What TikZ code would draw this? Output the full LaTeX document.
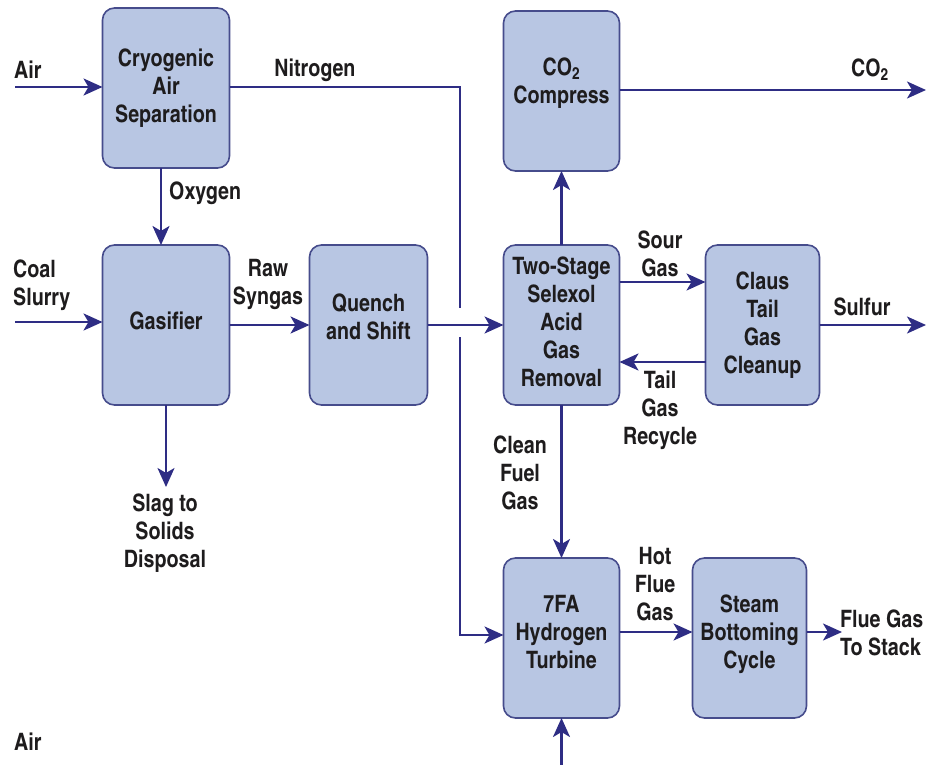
\documentclass[tikz,border=0pt]{standalone}
\usepackage{fontspec}
\setmainfont{TeX Gyre Heros Cn}
\usetikzlibrary{positioning,arrows.meta,calc}
\definecolor{flowink}{HTML}{1E1C1D}
\definecolor{flownavy}{HTML}{2E2D84}
\definecolor{flowedge}{HTML}{464C8C}
\definecolor{flowfill}{HTML}{B8C6E3}
\newcommand{\flowfont}{\fontsize{24}{28}\selectfont\bfseries}
\tikzset{
  unit/.style    ={rounded corners=12pt,draw=flowedge,fill=flowfill,line width=1.6pt,align=center,font=\flowfont,text=flowink,minimum width=116pt,minimum height=160pt,inner sep=0pt,outer sep=0pt},
  wideunit/.style={unit,minimum width=127pt},
  lift/.style    ={text depth=#1},
  arr/.style     ={-{Stealth[length=19pt,width=17pt,inset=5pt]},line width=2.4pt,draw=flownavy},
  pipe/.style    ={line width=2.4pt,draw=flownavy},
  lbl/.style     ={font=\flowfont,text=flowink,align=center,inner sep=0pt},
}

\begin{document}
\begin{tikzpicture}[x=1pt,y=-1pt]
  \useasboundingbox (0,0) rectangle (927,765);
  \node[wideunit, lift=8pt] (gas) at (166,325) {Gasifier};
  \node[wideunit, above=77pt of gas] (cas) {Cryogenic\\Air\\Separation};
  \node[unit, lift=16pt, minimum width=118pt, right=80pt of gas] (quench) {Quench\\and Shift};
  \node[unit, lift=6pt, right=76pt of quench] (selexol) {Two-Stage\\Selexol\\Acid\\Gas\\Removal};
  \node[unit, minimum width=114pt, right=86pt of selexol] (claus) {Claus\\Tail\\Gas\\Cleanup};
  \node[unit, lift=20pt, above=74pt of selexol] (co2) {CO\textsubscript{2}\\Compress};
  \node[unit, lift=12pt, below=153pt of selexol] (turb) {7FA\\Hydrogen\\Turbine};
  \node[unit, lift=13pt, minimum width=114pt, right=73pt of turb] (steam) {Steam\\Bottoming\\Cycle};

  \coordinate (airin) at (15,87);
  \coordinate (coalin) at (15,322);
  \coordinate (slag) at (166,487);
  \coordinate (n2a) at (460,87);
  \coordinate (n2b) at (460,308);
  \coordinate (n2c) at (460,337);
  \coordinate (n2d) at (460,635);
  \coordinate (co2out) at (926,90);
  \coordinate (sulfur) at (926,325);
  \coordinate (stack) at (842,632);
  \coordinate (airbot) at (562,765);

  \draw[arr] (airin) -- (airin -| cas.west);
  \draw[pipe] (cas.east |- n2a) -- (n2a) -- (n2b);
  \draw[arr] (n2c) -- (n2d) -- (n2d -| turb.west);
  \draw[arr] ([xshift=-5pt]cas.south) -- ([xshift=-5pt]gas.north);
  \draw[arr] (coalin) -- (coalin -| gas.west);
  \draw[arr] (gas) -- (quench);
  \draw[arr] (gas.south) -- (slag);
  \draw[arr] (quench) -- (selexol);
  \draw[arr] (selexol) -- (co2);
  \draw[arr] (co2.east |- co2out) -- (co2out);
  \draw[arr] ([yshift=43pt]selexol.east) -- ([yshift=43pt]claus.west);
  \draw[arr] ([yshift=-37pt]claus.west) -- ([yshift=-37pt]selexol.east);
  \draw[arr] (claus.east |- sulfur) -- (sulfur);
  \draw[arr] (selexol) -- (turb);
  \draw[arr] (turb.east |- stack) -- (steam.west |- stack);
  \draw[arr] (steam.east |- stack) -- (stack);
  \draw[arr] (turb.south |- airbot) -- (turb.south);

  \node[lbl, anchor=west] (airlbl) at (14,70) {Air};
  \node[lbl] (n2lbl) at (315,70) {Nitrogen};
  \node[lbl, anchor=west] (o2lbl) at (169,193) {Oxygen};
  \node[lbl, anchor=west, align=left] (coallbl) at (13,285) {Coal\\Slurry};
  \node[lbl] (rawlbl) at (268,284) {Raw\\Syngas};
  \node[lbl] (slaglbl) at (165,533) {Slag to\\Solids\\Disposal};
  \node[lbl] (sourlbl) at (660,254) {Sour\\Gas};
  \node[lbl] (taillbl) at (660,410) {Tail\\Gas\\Recycle};
  \node[lbl] (sulflbl) at (862,307) {Sulfur};
  \node[lbl] (cleanlbl) at (520,473) {Clean\\Fuel\\Gas};
  \node[lbl] (hotlbl) at (655,584) {Hot\\Flue\\Gas};
  \node[lbl, anchor=west, align=left] (stacklbl) at (840,633) {Flue Gas\\To Stack};
  \node[lbl] (co2lbl) at (870,70) {CO\textsubscript{2}};
  \node[lbl, anchor=west] (airbotlbl) at (14,742) {Air};
\end{tikzpicture}
\end{document}
